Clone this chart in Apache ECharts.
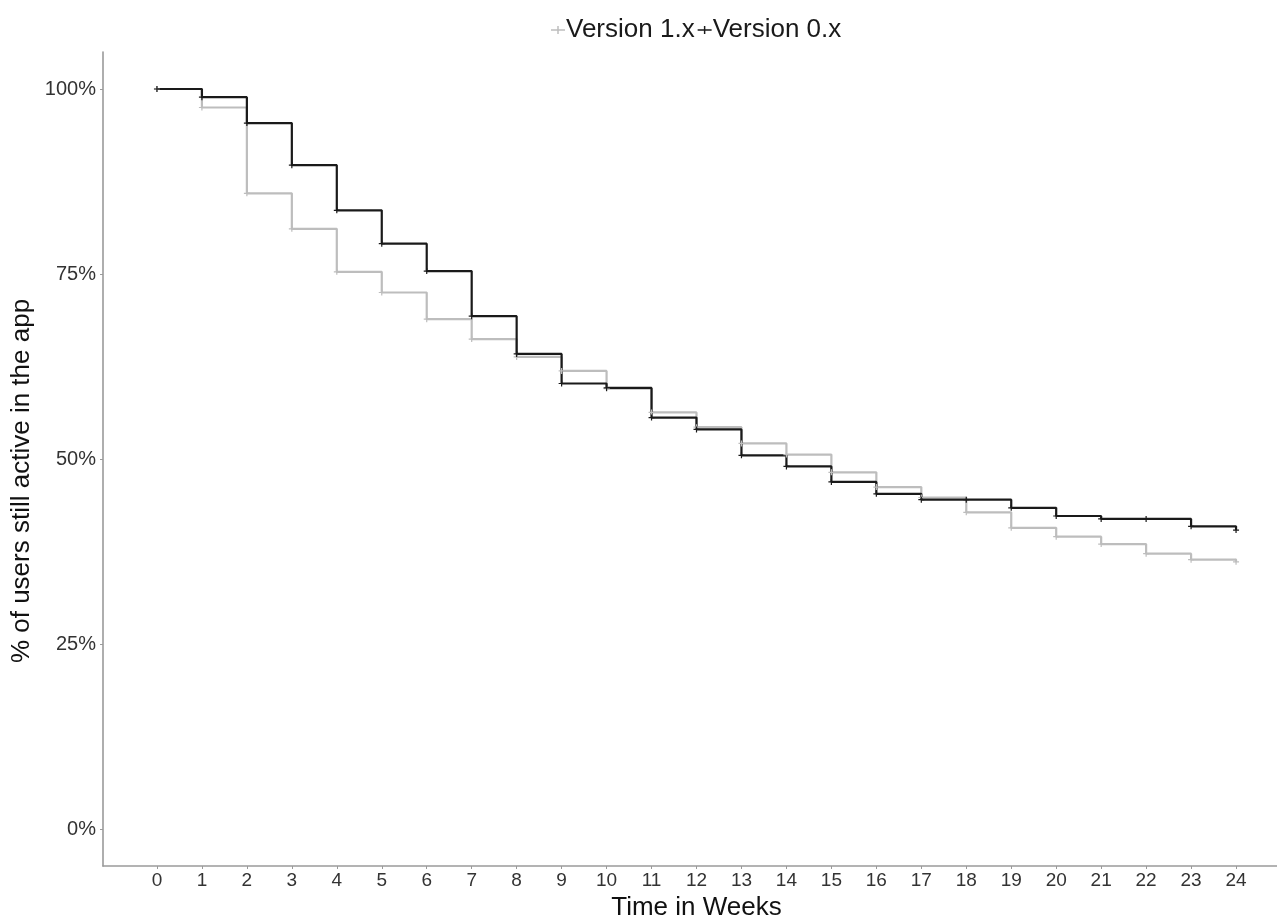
<!DOCTYPE html>
<html>
<head>
<meta charset="utf-8">
<title>Retention by version</title>
<script src="https://cdn.jsdelivr.net/npm/echarts@6/dist/echarts.min.js"></script>
<style>
  html, body { margin: 0; padding: 0; background: #fff; }
  #chart { width: 1277px; height: 916px; }
</style>
</head>
<body>
<div id="chart"></div>
<script>
// weeks (x values and tick labels)
var weeks = [0, 1, 2, 3, 4, 5, 6, 7, 8, 9, 10, 11, 12, 13, 14, 15, 16, 17, 18, 19, 20, 21, 22, 23, 24];
var yTicks = [0, 25, 50, 75, 100];
// % still active after the drop at each week
var version1x = [100, 97.5, 85.9, 81.1, 75.3, 72.5, 68.9, 66.2, 63.8, 61.9, 59.5, 56.3, 54.3, 52.1, 50.6, 48.2, 46.2, 44.8, 42.8, 40.7, 39.5, 38.5, 37.2, 36.4, 36.1];
var version0x = [100, 98.9, 95.4, 89.7, 83.6, 79.1, 75.4, 69.3, 64.2, 60.2, 59.6, 55.6, 54.0, 50.5, 49.0, 46.9, 45.3, 44.5, 44.5, 43.4, 42.3, 41.9, 41.9, 40.9, 40.4];
var seriesNames = ['Version 1.x', 'Version 0.x'];

var plus = 'path://M4,0h2v4h4v2h-4v4h-2v-4h-4v-2h4z';
var legendIcon = 'path://M0,4h6v-3h1.4v3h6v1.6h-6v3h-1.4v-3h-6z';
var font = 'Liberation Sans, Arial, sans-serif';
var axisGrey = '#9a9a9a';

function pairs(vals) {
  return weeks.map(function (w, i) { return [w, vals[i]]; });
}

var myChart = echarts.init(document.getElementById('chart'));
myChart.setOption({
  animation: false,
  legend: {
    left: 546,
    top: 12,
    itemGap: 3,
    itemWidth: 14,
    itemHeight: 10,
    textStyle: { fontSize: 26, color: '#1a1a1a', fontFamily: font, padding: [0, 0, 0, -4] },
    data: [
      { name: seriesNames[0], icon: legendIcon },
      { name: seriesNames[1], icon: legendIcon }
    ]
  },
  grid: { left: 103, top: 52, width: 1187, height: 814, outerBoundsMode: 'none' },
  graphic: [{
    type: 'text',
    x: 22,
    y: 481,
    rotation: Math.PI / 2,
    style: {
      text: '% of users still active in the app',
      fontSize: 26,
      fontFamily: font,
      fill: '#111',
      align: 'center',
      verticalAlign: 'middle'
    }
  }],
  xAxis: {
    type: 'value',
    min: -1.2,
    max: 25.2,
    name: 'Time in Weeks',
    nameLocation: 'middle',
    nameGap: 22,
    nameTextStyle: { fontSize: 26, color: '#111', fontFamily: font },
    axisLine: { onZero: false, lineStyle: { color: axisGrey, width: 1.6 } },
    axisTick: { length: 3, customValues: weeks, lineStyle: { color: axisGrey } },
    axisLabel: { customValues: weeks, margin: 5, fontSize: 19, color: '#333', fontFamily: font },
    splitLine: { show: false }
  },
  yAxis: {
    type: 'value',
    min: -5,
    max: 105,
    axisLine: { show: true, onZero: false, lineStyle: { color: axisGrey, width: 1.6 } },
    axisTick: { show: true, length: 3, customValues: yTicks, lineStyle: { color: axisGrey } },
    axisLabel: {
      customValues: yTicks, margin: 7, fontSize: 20, color: '#333', fontFamily: font,
      formatter: function (v) { return v + '%'; }
    },
    splitLine: { show: false }
  },
  series: [
    {
      name: seriesNames[0],
      type: 'line',
      step: 'end',
      data: pairs(version1x),
      symbol: plus,
      symbolSize: 6,
      itemStyle: { color: '#bdbdbd' },
      lineStyle: { color: '#bdbdbd', width: 2.2 }
    },
    {
      name: seriesNames[1],
      type: 'line',
      step: 'end',
      data: pairs(version0x),
      symbol: plus,
      symbolSize: 6,
      itemStyle: { color: '#1a1a1a' },
      lineStyle: { color: '#1a1a1a', width: 2.2 }
    }
  ]
});
window.addEventListener('resize', function () { myChart.resize(); });
</script>
</body>
</html>
